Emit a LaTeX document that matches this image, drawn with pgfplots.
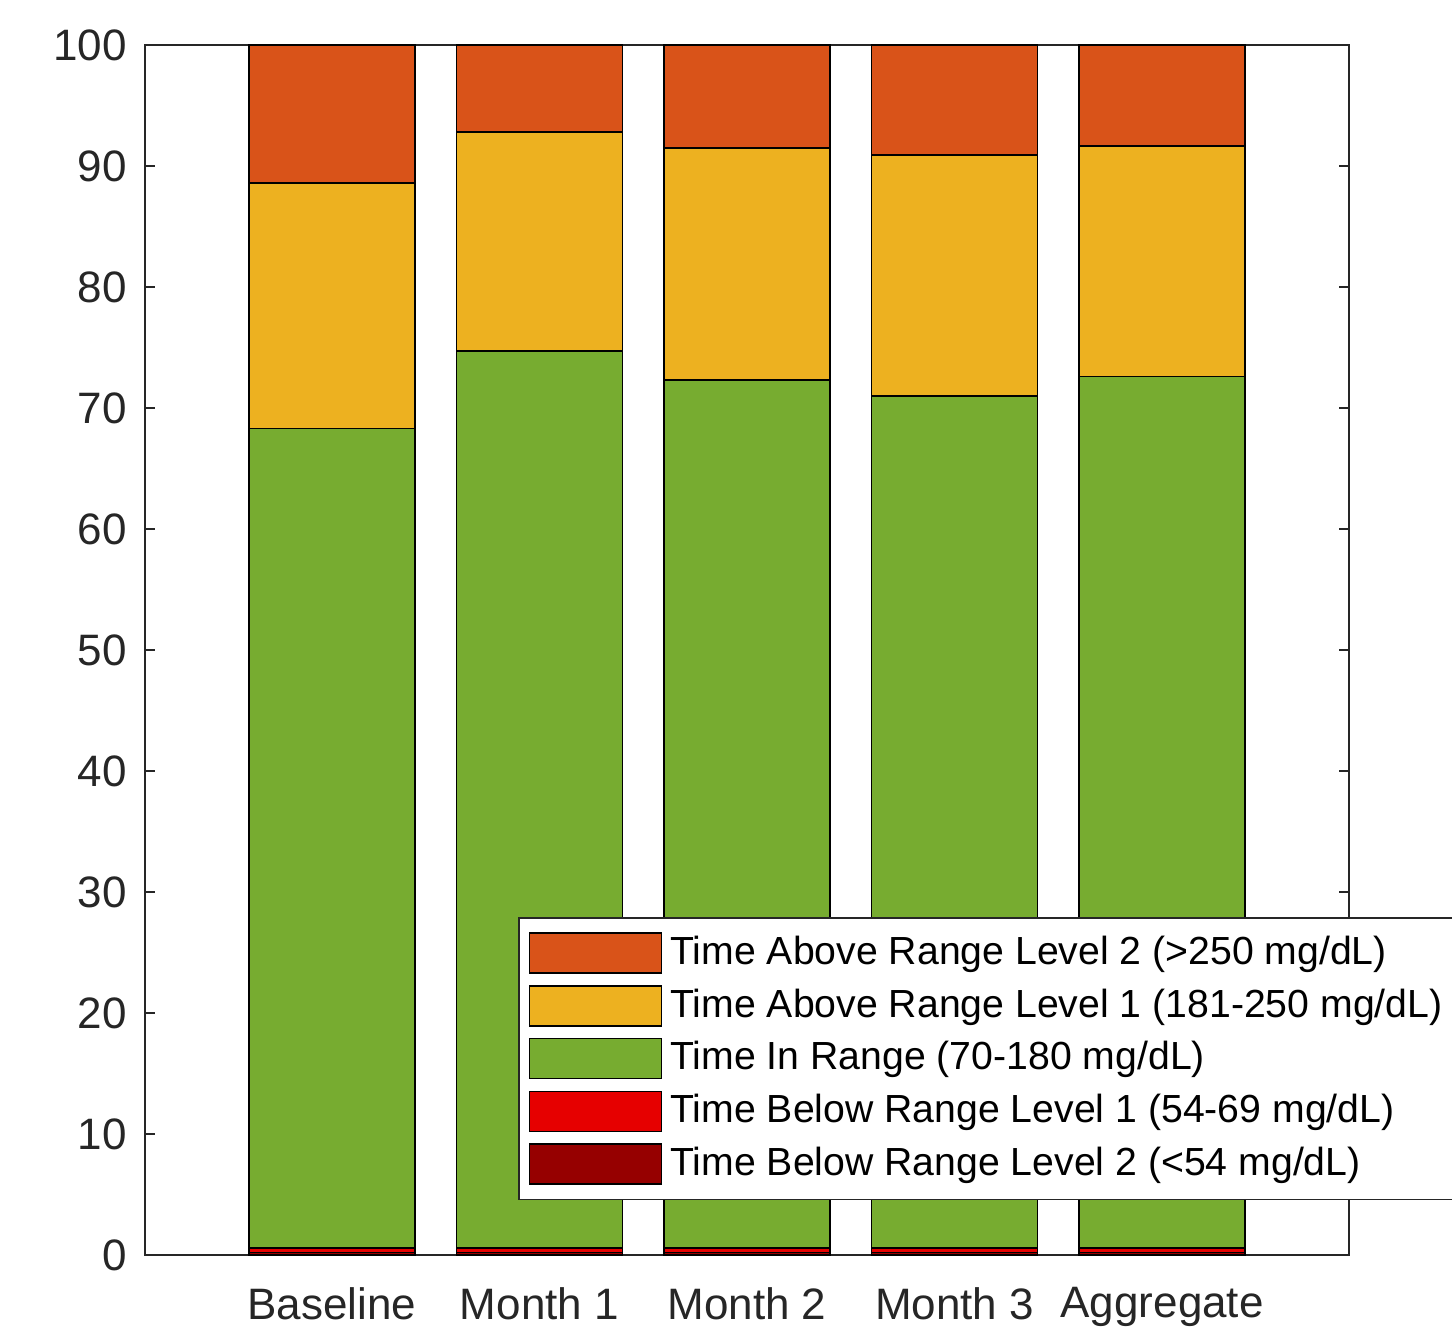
\documentclass[border=0pt]{standalone}
\usepackage{fontspec}
\setmainfont{Liberation Sans}
\usepackage{pgfplots}
\pgfplotsset{compat=1.18}
\definecolor{tar2}{RGB}{217,83,25}
\definecolor{tar1}{RGB}{237,177,32}
\definecolor{tir}{RGB}{119,172,48}
\definecolor{tbr1}{RGB}{230,0,0}
\definecolor{tbr2}{RGB}{150,0,0}
\definecolor{axgray}{RGB}{38,38,38}
\begin{document}
\begin{tikzpicture}
\clip (-36.25pt,-18.25pt) rectangle (326.75pt,313.75pt);
\begin{axis}[
  scale only axis, width=301pt, height=302.5pt,
  at={(0,0)}, anchor=south west,
  ybar stacked, bar width=0.8,
  xmin=0.1, xmax=5.9, ymin=0, ymax=100,
  xtick={1,2,3,4,5},
  xticklabels={Baseline,Month 1,Month 2,Month 3,Aggregate},
  ytick={0,10,...,100},
  tick align=inside, major tick length=2.5pt,
  tick style={axgray, line width=0.4pt},
  axis line style={axgray, line width=0.4pt},
  ticklabel style={font=\fontsize{11}{13}\selectfont, text=axgray},
  /pgf/number format/assume math mode=true,
  xticklabel style={yshift=-4.5pt},
  yticklabel style={xshift=-1pt},
  reverse legend,
  legend cell align=left,
  legend style={at={(0.3098,0.2793)}, anchor=north west,
    draw=axgray, line width=0.4pt,
    font=\fontsize{9.8}{11}\selectfont,
    row sep=0.6pt, inner sep=2.5pt},
  legend image code/.code={\draw[#1, draw=black, line width=0.4pt] (0pt,-5pt) rectangle (33pt,5pt);},
  every axis plot/.append style={draw=black, line width=0.4pt},
]
\addplot[fill=tbr2] coordinates {(1,0.2) (2,0.2) (3,0.2) (4,0.2) (5,0.2)};
\addplot[fill=tbr1] coordinates {(1,0.4) (2,0.4) (3,0.4) (4,0.4) (5,0.4)};
\addplot[fill=tir] coordinates {(1,67.7) (2,74.1) (3,71.7) (4,70.4) (5,72.0)};
\addplot[fill=tar1] coordinates {(1,20.3) (2,18.1) (3,19.2) (4,19.9) (5,19.05)};
\addplot[fill=tar2] coordinates {(1,11.4) (2,7.2) (3,8.5) (4,9.1) (5,8.35)};
\legend{Time Below Range Level 2 (<54 mg/dL),Time Below Range Level 1 (54-69 mg/dL),Time In Range (70-180 mg/dL),Time Above Range Level 1 (181-250 mg/dL),Time Above Range Level 2 (>250 mg/dL)}
\end{axis}
\end{tikzpicture}
\end{document}
